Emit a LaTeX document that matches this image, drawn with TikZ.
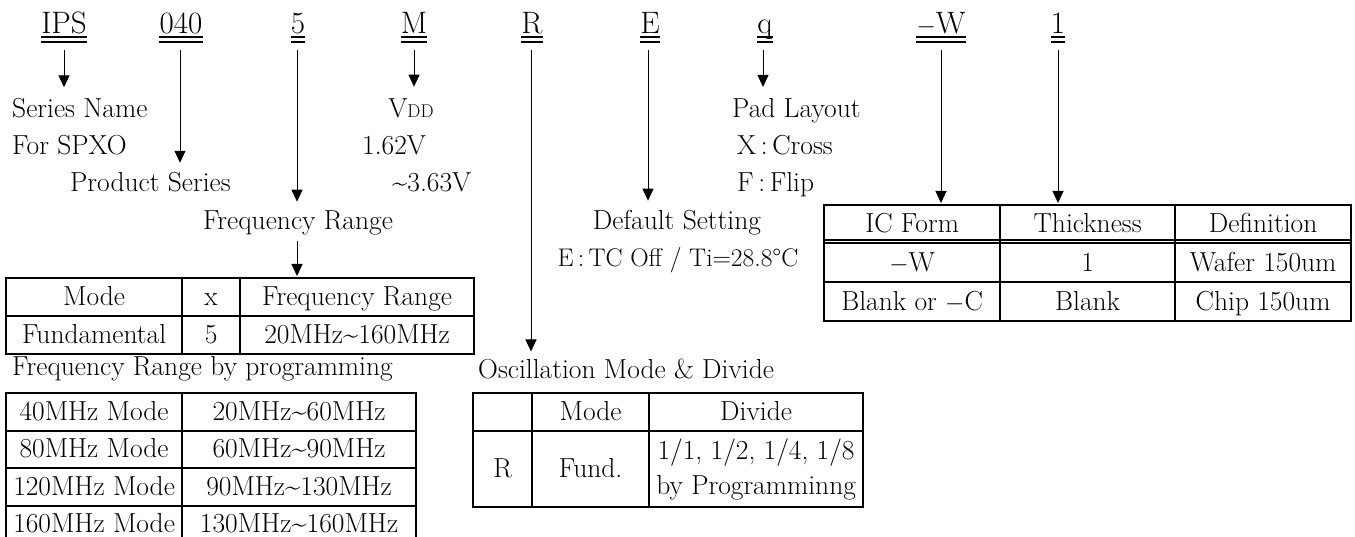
\documentclass[tikz,border=0pt]{standalone}
\usepackage{fontspec}
\usetikzlibrary{arrows.meta}
\tikzset{
  codelbl/.style={inner sep=0pt,font=\fontsize{31}{36}\selectfont},
  txt/.style={inner sep=0pt,font=\fontsize{27.5}{33}\selectfont},
  cellbox/.style={draw,line width=2.2pt,inner sep=0pt,anchor=north west,
    font=\fontsize{27.5}{35}\selectfont},
  cell/.style={cellbox,text height=18pt,text depth=1pt},
  uline/.style={line width=1.3pt},
  conn/.style={-{Triangle[length=12pt,width=11pt]},line width=1pt,shorten <=16pt}
}
\newcommand{\wave}{\textasciitilde}

\begin{document}
\begin{tikzpicture}[x=1pt,y=-1pt]
\useasboundingbox (0,0) rectangle (1355,537);
% part number
\node[codelbl,anchor=base] (ips) at (64,34) {IPS};
\node[codelbl,anchor=base] (series) at (181,34) {040};
\node[codelbl,anchor=base] (freq) at (298,34) {5};
\node[codelbl,anchor=base] (volt) at (414,34) {M};
\node[codelbl,anchor=base] (osc) at (532,34) {R};
\node[codelbl,anchor=base] (dflt) at (650,34) {E};
\node[codelbl,anchor=base] (pad) at (765,34) {q};
\node[codelbl,anchor=base] (icform) at (941,34) {$-$W};
\node[codelbl,anchor=base] (thick) at (1058,34) {1};
\foreach \n in {ips,series,freq,volt,osc,dflt,pad,icform,thick}{
  \draw[uline] ([yshift=-3pt]\n.base west) -- ([yshift=-3pt]\n.base east);
  \draw[uline] ([yshift=-8pt]\n.base west) -- ([yshift=-8pt]\n.base east);
}
% descriptions
\node[txt,anchor=base west] (sname) at (12,118) {Series Name};
\node[txt,anchor=base west] (spxo) at (12,155) {For SPXO};
\node[txt,anchor=base west] (pser) at (70,192) {Product Series};
\node[txt,anchor=base] (frng) at (298,230) {Frequency Range};
\node[txt,anchor=base] (vdd) at (411,118) {V{\fontsize{18.5}{20}\selectfont DD}};
\node[txt,anchor=base west] (vmin) at (362,155) {1.62V};
\node[txt,anchor=base west] (vmax) at (392,192) {\wave3.63V};
\node[txt,anchor=base west] (padlay) at (732,118) {Pad Layout};
\node[txt,anchor=base west] (cross) at (737,155) {X\,:\,Cross};
\node[txt,anchor=base west] (flip) at (737,192) {F\,:\,Flip};
\node[txt,anchor=base] (dset) at (677,230) {Default Setting};
\node[txt,anchor=base,font=\fontsize{25.5}{30}\selectfont] (tcoff) at (678,267) {E\,:\,TC Off / Ti=28.8°C};
\node[txt,anchor=base west] (frprog) at (12,375) {Frequency Range by programming};
\node[txt,anchor=base west] (oscdiv) at (478,378) {Oscillation Mode \& Divide};

% frequency range table
\node[cell,minimum width=176pt,minimum height=38pt] (modeh) at (5,277) {Mode};
\node[cell,minimum width=58pt,minimum height=38pt] (xh) at (181,277) {x};
\node[cell,minimum width=234pt,minimum height=38pt] (rngh) at (239,277) {Frequency Range};
\node[cell,minimum width=176pt,minimum height=38pt] (modeb) at (5,315) {Fundamental};
\node[cell,minimum width=58pt,minimum height=38pt] (xb) at (181,315) {5};
\node[cell,minimum width=234pt,minimum height=38pt] (rngb) at (239,315) {20MHz\wave160MHz};

% programming table
\foreach \m/\r [count=\i from 0] in {40MHz Mode/20MHz\wave60MHz,80MHz Mode/60MHz\wave90MHz,
    120MHz Mode/90MHz\wave130MHz,160MHz Mode/130MHz\wave160MHz}{
  \node[cell,minimum width=176pt,minimum height=37.5pt] (pm\i) at (5,{392+37.5*\i}) {\m};
  \node[cell,minimum width=234pt,minimum height=37.5pt] (pr\i) at (181,{392+37.5*\i}) {\r};
}

% oscillation table
\node[cell,minimum width=59pt,minimum height=38pt] (och) at (472,392) {};
\node[cell,minimum width=117pt,minimum height=38pt] (omh) at (531,392) {Mode};
\node[cell,minimum width=214pt,minimum height=38pt] (odh) at (648,392) {Divide};
\node[cell,minimum width=59pt,minimum height=76pt] (ocb) at (472,430) {R};
\node[cell,minimum width=117pt,minimum height=76pt] (omb) at (531,430) {Fund.};
\node[cellbox,align=center,minimum width=214pt,minimum height=76pt] (odb) at (648,430)
  {1/1, 1/2, 1/4, 1/8\\by Programminng};

% ic form table
\node[cell,minimum width=176pt,minimum height=38pt] (icfh) at (823,204) {IC Form};
\node[cell,minimum width=175pt,minimum height=38pt] (thkh) at (999,204) {Thickness};
\node[cell,minimum width=176pt,minimum height=38pt] (dfnh) at (1174,204) {Definition};
\draw[line width=1.6pt] ([yshift=4pt]icfh.south west) -- ([yshift=4pt]dfnh.south east);
\node[cell,minimum width=176pt,minimum height=39pt] (icf1) at (823,242) {$-$W};
\node[cell,minimum width=175pt,minimum height=39pt] (thk1) at (999,242) {1};
\node[cell,minimum width=176pt,minimum height=39pt] (dfn1) at (1174,242) {Wafer 150um};
\node[cell,minimum width=176pt,minimum height=39pt] (icf2) at (823,281) {Blank or $-$C};
\node[cell,minimum width=175pt,minimum height=39pt] (thk2) at (999,281) {Blank};
\node[cell,minimum width=176pt,minimum height=39pt] (dfn2) at (1174,281) {Chip 150um};

% connectors
\draw[conn,shorten >=11.3pt] (ips.base) -- (ips.base |- sname.north);
\draw[conn,shorten >=9.8pt] ([xshift=-1pt]series.base) -- ([xshift=-1pt]series.base |- pser.north);
\draw[conn,shorten >=9.3pt] ([xshift=-1pt]freq.base) -- ([xshift=-1pt]freq.base |- frng.north);
\draw[conn,shorten <=5pt,shorten >=1pt] ([xshift=-1pt]frng.south) -- ([xshift=-1pt]frng.south |- rngh.north);
\draw[conn,shorten >=12.3pt] (volt.base) -- (volt.base |- vdd.north);
\draw[conn,shorten >=6.8pt] ([xshift=-1pt]osc.base) -- ([xshift=-1pt]osc.base |- oscdiv.north);
\draw[conn,shorten >=9.8pt] ([xshift=-2pt]dflt.base) -- ([xshift=-2pt]dflt.base |- dset.north);
\draw[conn,shorten >=11.8pt] ([xshift=-2pt]pad.base) -- ([xshift=-2pt]pad.base |- padlay.north);
\draw[conn,shorten >=1pt] (icform.base) -- (icform.base |- icfh.north);
\draw[conn,shorten >=1pt] (thick.base) -- (thick.base |- thkh.north);
\end{tikzpicture}
\end{document}
